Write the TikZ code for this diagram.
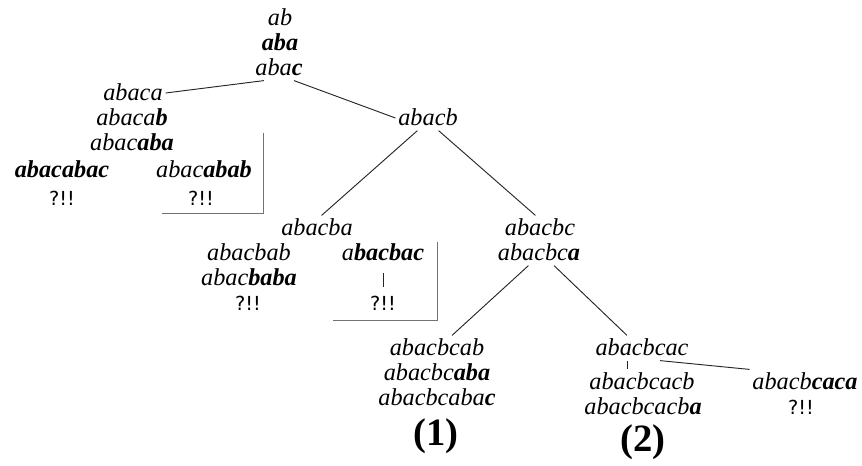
\documentclass[tikz,border=0pt]{standalone}
\usepackage{fontspec}
\setmainfont{Liberation Serif}
\newfontfamily\qfont{DejaVu Sans}
\usetikzlibrary{positioning,calc}
\newcommand{\hl}[1]{\textbf{#1}}
\tikzset{
  word/.style={font=\fontsize{18.2}{21}\selectfont\itshape, inner xsep=2pt, inner ysep=3.5pt, text height=11.5pt, text depth=0pt},
  fail/.style={font=\fontsize{14.5}{17}\selectfont\qfont, inner xsep=2pt, inner ysep=3.5pt, text height=11pt, text depth=0pt},
  tag/.style={font=\fontsize{29}{33}\selectfont\bfseries},
  edge/.style={line width=0.7pt, black!85},
  corner/.style={line width=0.7pt, black!55},
}
\begin{document}
\begin{tikzpicture}[x=0.75pt, y=-0.75pt]
\useasboundingbox (0,0) rectangle (862,465);
% root
\node[word] (root1) at (280,18) {ab};
\node[word] (root2) at (280,43) {\hl{aba}};
\node[word] (root3) at (279,68) {aba\hl{c}};
% left branch
\node[word] (l1) at (133,93) {abaca};
\node[word] (l2) at (132,118) {abaca\hl{b}};
\node[word] (l3) at (132,143) {abac\hl{aba}};
\node[word] (l4) at (62,170) {\hl{abacabac}};
\node[fail] (q1) at (62,198) {?!!};
\node[word] (l5) at (204,170) {abac\hl{abab}};
\node[fail] (q2) at (201,198) {?!!};
\draw[corner] (263,133) |- (162,213);
% right branch
\node[word] (r1) at (428,118) {abacb};
\node[word] (m1) at (317,228) {abacba};
\node[word] (m2) at (249,253) {abacbab};
\node[word] (m3) at (249,278) {abac\hl{baba}};
\node[fail] (q3) at (248,303) {?!!};
\node[word] (m4) at (383,253) {a\hl{bacbac}};
\node[fail] (q4) at (383,303) {?!!};
\draw[corner] (437,242) |- (333,320);
\node[word] (n1) at (540,228) {abacbc};
\node[word] (n2) at (539,253) {abacbc\hl{a}};
% case (1)
\node[word] (p1) at (437,348) {abacbcab};
\node[word] (p2) at (437,373) {abacbc\hl{aba}};
\node[word] (p3) at (437,398) {abacbcaba\hl{c}};
\node[tag] (t1) at (436,436) {(1)};
% case (2)
\node[word] (s1) at (642,348) {abacbcac};
\node[word] (s2) at (642,382) {abacbcacb};
\node[word] (s3) at (643,407) {abacbcacb\hl{a}};
\node[tag] (t2) at (643,442) {(2)};
\node[word] (u1) at (805,382) {abacb\hl{caca}};
\node[fail] (q5) at (801,407) {?!!};
% edges
\draw[edge] (root3.-140) -- (l1.east);
\draw[edge] (root3.-40) -- (r1.west);
\draw[edge] (r1.-130) -- (m1.70);
\draw[edge] (r1.-50) -- (n1.110);
\draw[edge, shorten <=5.5pt, shorten >=2.5pt] (m4.south) -- (q4.north);
\draw[edge] (n2.-130) -- (p1.40);
\draw[edge] (n2.-40) -- (s1.140);
\draw[edge] ([xshift=-11pt]s1.south) -- ([xshift=-11pt]s2.north);
\draw[edge] ([xshift=13.5pt]s1.south) -- (u1.north west);
\end{tikzpicture}
\end{document}
